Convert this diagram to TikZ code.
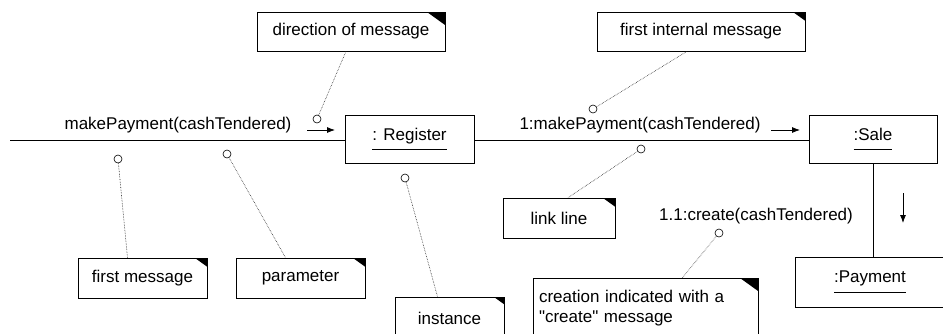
\documentclass[tikz,border=0pt]{standalone}
\usepackage{fontspec}
\setmainfont{Liberation Sans}
\newfontfamily\rawfont{Liberation Sans}
\usetikzlibrary{arrows.meta}
\newcommand\ulbox[1]{\setbox0\hbox{#1}\dp0=0pt\vbox{\box0\kern9pt\hrule height 0.8pt}}
\tikzset{
 every node/.style={font=\fontsize{17}{20}\selectfont},
 obj/.style={draw, line width=0.8pt, inner sep=0pt},
 note/.style={draw, line width=0.7pt, inner sep=0pt,
   path picture={\fill (path picture bounding box.north east) -- ++(-#1,0) -- ++(#1,-0.72*#1) -- cycle;}},
 note/.default=12pt,
 knob/.style={circle, draw, fill=white, minimum size=8pt, inner sep=0pt, line width=0.6pt},
 link/.style={line width=0.8pt},
 msg/.style={-{Latex[length=8pt,width=6pt]}, line width=0.8pt},
 anno/.style={densely dotted, line width=0.6pt, black!85},
 lbl/.style={inner sep=0pt}
}
\begin{document}
\begin{tikzpicture}[x=1pt,y=-1pt]
\useasboundingbox (0,0) rectangle (943,333);
\clip (0,0) rectangle (943,333);
% objects
\node[obj, minimum width=129pt, minimum height=48pt] (reg) at (409.5,139) {\ulbox{: Register}};
\node[obj, minimum width=128pt, minimum height=48pt] (sale) at (873,139) {\ulbox{:Sale}};
\node[obj, minimum width=150pt, minimum height=50pt] (pay) at (870,282) {\ulbox{:Payment}};
% notes
\node[note=18pt, minimum width=188pt, minimum height=39pt] (dir) at (351,31.5) {direction of message};
\node[note, minimum width=208pt, minimum height=39pt] (first) at (701,31.5) {first internal message};
\node[note, minimum width=129pt, minimum height=40pt] (fm) at (142.5,278) {first message};
\node[note, minimum width=129pt, minimum height=40pt] (par) at (300.5,278) {parameter};
\node[note=10pt, minimum width=109pt, minimum height=43pt] (inst) at (449.5,318.5) {instance};
\node[note, minimum width=112pt, minimum height=40pt] (ll) at (559,218) {link line};
\node[note=18pt, minimum width=225pt, minimum height=60pt, text width=213pt, align=left, font=\rawfont\fontsize{17}{20}\selectfont] (cre) at (645.5,308) {creation indicated with a\\"create" message};
% message labels
\node[lbl] (m1) at (178,125) {makePayment(cashTendered)};
\node[lbl] (m2) at (640,125) {1:makePayment(cashTendered)};
\node[lbl] (m3) at (756,216) {1.1:create(cashTendered)};
% links
\coordinate (start) at (10,140);
\draw[link] (start) -- (start -| reg.west);
\draw[link] (reg.east |- start) -- (sale.west |- start);
\draw[link] (sale.south) -- (sale.south |- pay.north);
% arrows
\coordinate (a1s) at (307,130); \coordinate (a1e) at (335,130);
\coordinate (a2s) at (771,130); \coordinate (a2e) at (800,130);
\coordinate (a3s) at (903,193); \coordinate (a3e) at (903,223);
\draw[msg] (a1s) -- (a1e);
\draw[msg] (a2s) -- (a2e);
\draw[msg] (a3s) -- (a3e);
% knobs
\node[knob] (c1) at (317,119) {};
\node[knob] (c2) at (118,159) {};
\node[knob] (c3) at (227,154) {};
\node[knob] (c4) at (405,178) {};
\node[knob] (c5) at (593,109) {};
\node[knob] (c6) at (641,149) {};
\node[knob] (c7) at (719,233) {};
% annotation lines
\draw[anno] (c1) -- ([xshift=-5pt]dir.south);
\draw[anno] (c2) -- ([xshift=-15pt]fm.north);
\draw[anno] (c3) -- ([xshift=-15pt]par.north);
\draw[anno] (c4) -- ([xshift=-12pt]inst.north);
\draw[anno] (c5) -- ([xshift=-14pt]first.south);
\draw[anno] (c6) -- ([xshift=9pt]ll.north);
\draw[anno] (c7) -- ([xshift=37pt]cre.north);
\end{tikzpicture}
\end{document}
